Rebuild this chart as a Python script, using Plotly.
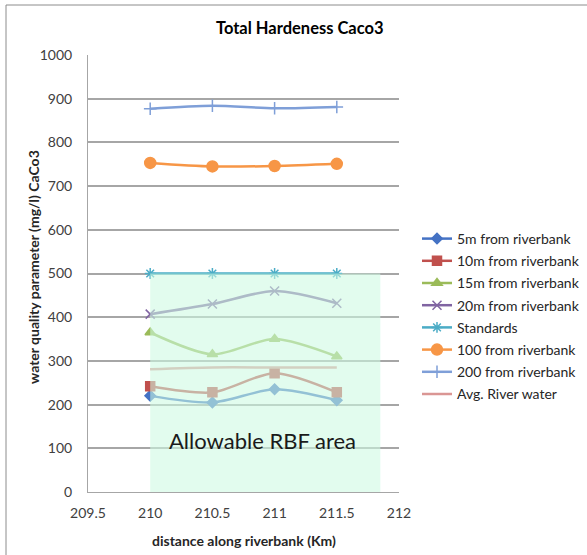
import plotly.graph_objects as go

x = [210, 210.5, 211, 211.5]
s5 = [220, 205, 235, 210]
s10 = [242, 228, 272, 228]
s15 = [365, 315, 350, 310]
s20 = [407, 430, 460, 432]
std = [500, 500, 500, 500]
s100 = [753, 745, 746, 751]
s200 = [877, 884, 878, 881]
avg = [281, 285, 285, 285]

names = ["5m from riverbank", "10m from riverbank", "15m from riverbank", "20m from riverbank",
         "Standards", "100 from riverbank", "200 from riverbank", "Avg. River water"]
series = [s5, s10, s15, s20, std, s100, s200, avg]
colors = ["#4472C4", "#C0504D", "#9BBB59", "#8064A2", "#4BACC6", "#F79646", "#7F9FD8", "#DA9694"]
symbols = ["diamond", "square", "triangle-up", "x-thin-open", "asterisk-open", "circle", "cross-thin-open", None]
sizes = [8, 9, 9, 9, 9, 11, 9, 0]

area_x = [210, 211.85]
area_y = [0, 500]

FONT = "Lato"
fig = go.Figure()
for i, (n, ys, c, sym, sz) in enumerate(zip(names, series, colors, symbols, sizes)):
    mode = "lines+markers" if sym else "lines"
    marker = dict(symbol=sym, size=sz, color=c, line=dict(color=c, width=1.5)) if sym else None
    fig.add_trace(go.Scatter(x=x, y=ys, name=n, mode=mode, line=dict(color=c, width=2.5, shape="spline", smoothing=0.8),
                             marker=marker, legendgroup=f"g{i}"))

fig.add_shape(type="rect", xref="x", yref="y", x0=area_x[0], x1=area_x[1], y0=area_y[0], y1=area_y[1],
              fillcolor="rgba(205,250,225,0.58)", line=dict(width=0), layer="above")

fig.add_annotation(text="Allowable RBF area", xref="x", yref="y", x=210.9, y=119, showarrow=False,
                   xanchor="center", yanchor="middle",
                   font=dict(family=FONT, size=22, color="#1a1a1a"))

# outer border
fig.add_shape(type="rect", xref="paper", yref="paper", x0=(6 - 88) / 311, x1=2.0, y0=-0.5, y1=(492 - 5) / 437,
              line=dict(color="#8c8c8c", width=1), fillcolor="rgba(0,0,0,0)", layer="below")

fig.add_annotation(text="<b>Total Hardeness Caco3</b>", xref="paper", yref="paper",
                   x=(300 - 88) / 311, y=(492 - 28) / 437, showarrow=False,
                   xanchor="center", yanchor="middle",
                   font=dict(family=FONT, size=16.5, color="#000000"))
fig.add_annotation(text="<b>distance along riverbank (Km)</b>", xref="paper", yref="paper",
                   x=0.5, y=(492 - 540) / 437, showarrow=False, xanchor="center", yanchor="middle",
                   font=dict(family=FONT, size=14, color="#262626"))
fig.add_annotation(text="<b>water quality parameter (mg/l) CaCo3</b>", xref="paper", yref="paper",
                   x=(33 - 88) / 311, y=(492 - 267) / 437, showarrow=False, textangle=-90,
                   xanchor="center", yanchor="middle",
                   font=dict(family=FONT, size=14, color="#262626"))

fig.update_layout(
    width=587, height=555,
    margin=dict(l=88, r=188, t=55, b=63, autoexpand=False),
    paper_bgcolor="white", plot_bgcolor="white",
    font=dict(family=FONT, size=14, color="#595959"),
    showlegend=True,
    legend=dict(x=(417 - 88) / 311, xanchor="left", y=(492 - 223) / 437, yanchor="top",
                font=dict(family=FONT, size=14, color="#262626"), tracegroupgap=1,
                bgcolor="rgba(0,0,0,0)"),
)
fig.update_xaxes(range=[209.5, 212], dtick=0.5, tick0=209.5, showgrid=False, showline=True,
                 linecolor="#a6a6a6", linewidth=1, ticks="", zeroline=False, automargin=False,
                 ticklabelstandoff=8,
                 tickfont=dict(family=FONT, size=14, color="#404040"))
fig.update_yaxes(range=[0, 1000], dtick=100, showgrid=True, gridcolor="#a6a6a6", gridwidth=1.5,
                 showline=True, linecolor="#a6a6a6", linewidth=1, ticks="", zeroline=False,
                 automargin=False, ticklabelstandoff=12,
                 tickfont=dict(family=FONT, size=14, color="#404040"))

fig.write_html("out.html")
